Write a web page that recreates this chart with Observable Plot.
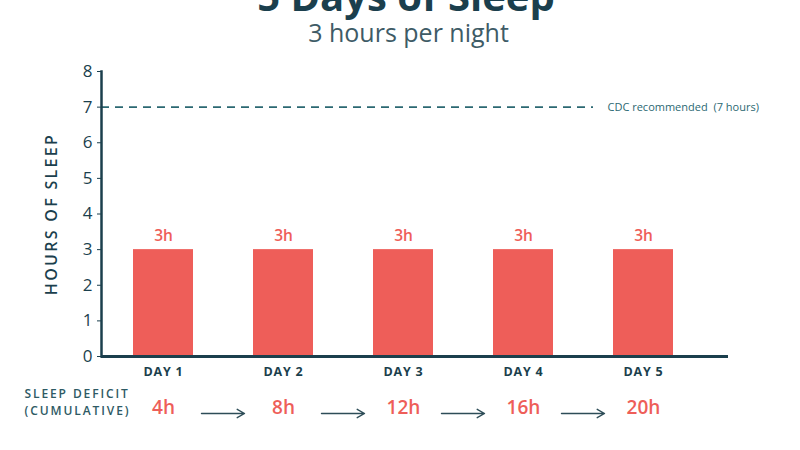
<!DOCTYPE html>
<html>
<head>
<meta charset="utf-8">
<script src="https://cdn.jsdelivr.net/npm/d3@7"></script>
<script src="https://cdn.jsdelivr.net/npm/@observablehq/plot@0.6"></script>
<style>
  html, body { margin: 0; padding: 0; background: #fff; }
  #wrap { position: relative; width: 800px; height: 450px; overflow: hidden; font-family: "Open Sans", sans-serif; }
  #title { position: absolute; left: 0; width: 812px; top: -19px; text-align: center; font-size: 40px; line-height: 30px; font-weight: 700; color: #1b3f4d; margin: 0; }
  #subtitle { position: absolute; left: 0; width: 817px; top: 20px; text-align: center; font-size: 25px; line-height: 25px; font-weight: 400; color: #3e5b66; margin: 0; }
  #chart { position: absolute; left: 0; top: 0; }
</style>
</head>
<body>
<div id="wrap">
  <div id="chart"></div>
  <h1 id="title">5 Days of Sleep</h1>
  <h2 id="subtitle">3 hours per night</h2>
</div>
<script>
const days = ["Day 1", "Day 2", "Day 3", "Day 4", "Day 5"];
const hours = [3, 3, 3, 3, 3];
const barLabels = ["3h", "3h", "3h", "3h", "3h"];
const deficits = ["4h", "8h", "12h", "16h", "20h"];
const yTicks = [0, 1, 2, 3, 4, 5, 6, 7, 8];
const recommended = [7];
const recommendedLabel = ["CDC recommended  (7 hours)"];
const yLabel = ["HOURS OF SLEEP"];
const deficitLabel = ["SLEEP DEFICIT\n(CUMULATIVE)"];

const rows = days.map((d, i) => ({day: d, hours: hours[i], label: barLabels[i], deficit: deficits[i]}));
const steps = days.slice(0, -1).map((d, i) => ({from: d, to: days[i + 1]}));

const dark = "#1b3f4d";
const teal = "#2b6872";
const red = "#ee5e59";

const chart = Plot.plot({
  width: 800,
  height: 450,
  marginTop: 71,
  marginBottom: 94,
  marginLeft: 101,
  marginRight: 72,
  style: {fontFamily: "'Open Sans', sans-serif", background: "transparent"},
  x: {type: "band", domain: days, paddingInner: 0.5, paddingOuter: 0.257, insetRight: 23, axis: null},
  y: {domain: [0, 8], axis: null},
  marks: [
    Plot.barY(rows, {x: "day", y: "hours", fill: red}),
    Plot.ruleY(recommended, {stroke: teal, strokeWidth: 1.6, strokeDasharray: "8,6", insetRight: 135}),
    Plot.text(recommendedLabel, {y: recommended[0], text: d => d, frameAnchor: "right", textAnchor: "start", dx: -121, fontSize: 11, fill: teal}),
    Plot.text(rows, {x: "day", y: "hours", text: "label", dy: -14, fontSize: 15.5, fontWeight: 600, fill: red}),
    Plot.axisY({ticks: yTicks, tickSize: 4, tickPadding: 5, fontSize: 17, fontWeight: 500, stroke: dark, color: dark, label: null, tickFormat: d => String(d)}),
    Plot.frame({anchor: "left", stroke: dark, strokeWidth: 2.5}),
    Plot.ruleY([0], {stroke: dark, strokeWidth: 3}),
    Plot.text(yLabel, {text: d => d, frameAnchor: "left", textAnchor: "middle", rotate: -90, dx: -50, fontSize: 16, fontWeight: 600, fill: dark}),
    Plot.text(rows, {x: "day", text: d => d.day.toUpperCase(), frameAnchor: "bottom", dy: 19, fontSize: 12.5, fontWeight: 700, fill: dark}),
    Plot.text(rows, {x: "day", text: "deficit", frameAnchor: "bottom", dy: 57, fontSize: 19, fontWeight: 600, fill: red}),
    Plot.arrow(steps, {x1: "from", x2: "to", y1: 0, y2: 0, dy: 57, insetStart: 38, insetEnd: 39, bend: 0, headLength: 9, stroke: "#2d4c57", strokeWidth: 1.4}),
    Plot.text(deficitLabel, {text: d => d, frameAnchor: "bottom-left", textAnchor: "start", dx: -77, dy: 58, lineHeight: 1.4, fontSize: 12, fontWeight: 600, fill: "#2e5a64"})
  ]
});

// letter-spacing for the spaced capital labels
const spacing = new Map([
  [yLabel[0], "2.3px"],
  ...days.map(d => [d.toUpperCase(), "0.8px"])
]);
d3.select(chart).selectAll("text").each(function() {
  const t = this.textContent;
  if (spacing.has(t)) this.style.letterSpacing = spacing.get(t);
  if (t.startsWith("SLEEP DEFICIT")) this.style.letterSpacing = "1.9px";
});
document.getElementById("chart").appendChild(chart);
</script>
</body>
</html>
